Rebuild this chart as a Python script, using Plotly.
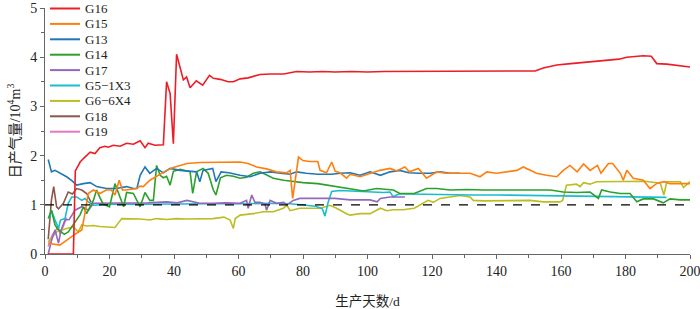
import plotly.graph_objects as go

# ---------------- data ----------------
series_names = ["G16", "G15", "G13", "G14", "G17", "G5−1X3", "G6−6X4", "G18", "G19"]
series_colors = ["#ee1c25", "#ff7f0e", "#1f77b4", "#2ca02c", "#9467bd",
                 "#17becf", "#bcbd22", "#8c564b", "#e377c2"]

g16_days = [1, 8.8, 9.4, 10.9, 11.9, 14, 15.5, 17, 18.6, 19.6, 21.2, 23.3, 25.3, 27.4, 29.5,
            31, 32, 34.1, 36.7, 37.7, 38.8, 39.8, 40.8, 42.9, 43.9, 45, 46.9, 48.9, 51, 52.2,
            54.3, 56.8, 58.4, 60.5, 63, 66.7, 70, 74, 78, 82, 86, 90, 95, 100, 105,
            110, 120, 130, 140, 150, 152, 154.5, 158.7, 163, 167, 171, 175, 178, 180.4, 183,
            185.5, 188, 189.7, 192.8, 196, 199, 200]
g16_vals = [0, 0, 1.69, 1.87, 1.94, 2.07, 2.04, 2.16, 2.19, 2.17, 2.21, 2.19, 2.25, 2.23, 2.30,
            2.16, 2.25, 2.21, 2.22, 3.50, 3.26, 2.24, 4.06, 3.54, 3.60, 3.38, 3.52, 3.43, 3.63, 3.57,
            3.55, 3.50, 3.50, 3.56, 3.58, 3.65, 3.66, 3.66, 3.71, 3.70, 3.71, 3.70, 3.71, 3.70, 3.71,
            3.71, 3.71, 3.71, 3.71, 3.71, 3.72, 3.78, 3.84, 3.87, 3.89, 3.91, 3.93, 3.96, 4.00, 4.02,
            4.03, 4.02, 3.87, 3.86, 3.84, 3.81, 3.80]

g15_days = [1, 4.6, 8.8, 11.4, 12.4, 13.4, 15, 17, 19, 20.6, 21.7, 23, 24, 25, 28.4,
            29.5, 30.5, 31.5, 32.5, 33.6, 35.5, 37.7, 39.8, 42, 44, 48, 53, 57, 60.5, 63,
            65.6, 68.7, 71.8, 74.9, 76, 76.8, 77.5, 78.6, 80, 82, 84.6, 85.3, 87.3, 88.9, 90,
            91.5, 93.5, 94.6, 97.7, 100.8, 103.9, 107, 109, 111.6, 113, 115.8, 118.3, 121.5, 124.5, 128.7,
            131.8, 134.9, 137, 140, 143, 146.3, 148.3, 152.4, 155.5, 158.7, 160.7, 162.8, 165, 167, 169,
            171.3, 172.4, 174.7, 176, 178.4, 179.3, 180.4, 182.4, 185.5, 187.6, 189.8, 192, 193.8, 197, 200]
g15_vals = [0.22, 0.18, 0.38, 0.49, 0.83, 1.23, 1.30, 1.23, 1.30, 1.30, 1.20, 1.50, 1.30, 1.30, 1.33,
            1.38, 1.37, 1.43, 1.50, 1.54, 1.62, 1.70, 1.76, 1.80, 1.84, 1.86, 1.86, 1.86, 1.87, 1.84,
            1.77, 1.73, 1.67, 1.65, 1.70, 1.13, 1.50, 1.97, 1.90, 1.88, 1.88, 1.70, 1.65, 1.87, 1.68,
            1.65, 1.54, 1.62, 1.57, 1.64, 1.70, 1.74, 1.69, 1.77, 1.67, 1.74, 1.54, 1.67, 1.64, 1.64,
            1.64, 1.57, 1.67, 1.64, 1.67, 1.70, 1.77, 1.64, 1.60, 1.57, 1.70, 1.80, 1.67, 1.83, 1.70,
            1.80, 1.64, 1.84, 1.84, 1.64, 1.50, 1.70, 1.54, 1.50, 1.33, 1.44, 1.47, 1.43, 1.43, 1.43]

g13_days = [1, 2, 3.1, 4.5, 6.7, 8.5, 9.8, 11.9, 14, 16, 19, 22.1, 25.3, 27.4, 28.5,
            29.5, 31, 32.5, 34.6, 36.7, 38.8, 41.9, 45, 47, 48, 49, 52, 53, 54.6, 57,
            60.5, 63.6, 66.7, 70, 73, 76, 78, 81, 84.6, 88.9, 91.5, 94.6, 97.7, 100.8, 104,
            107, 110, 112.8, 116, 119.5, 122.5, 125.6, 128.7]
g13_vals = [1.92, 1.67, 1.70, 1.65, 1.57, 1.48, 1.40, 1.43, 1.45, 1.37, 1.33, 1.33, 1.37, 1.33, 1.33,
            1.60, 1.77, 1.64, 1.74, 1.65, 1.74, 1.70, 1.68, 1.67, 1.47, 1.70, 1.74, 1.47, 1.67, 1.65,
            1.60, 1.57, 1.64, 1.67, 1.64, 1.62, 1.67, 1.64, 1.62, 1.62, 1.64, 1.65, 1.60, 1.67, 1.60,
            1.67, 1.70, 1.65, 1.64, 1.64, 1.67, 1.64, 1.64]

g14_days = [1, 2, 3.1, 4, 5, 6, 7.2, 8.2, 9.3, 10.9, 11.9, 12.9, 15, 16, 17,
            18, 20, 21.7, 23.3, 24.4, 25.3, 27.4, 29.5, 31, 32.5, 33.6, 34.6, 35.7, 36.7, 37.7,
            38.8, 39.8, 41.9, 43.4, 45, 45.8, 47, 49, 50.6, 52.2, 53, 54.4, 56.3, 58.4, 60.5,
            62.5, 64.6, 66.7, 68.7, 70.8, 74, 77, 80, 84.6, 87.6, 90.7, 94, 98.8, 102.8, 106,
            108, 110, 112.4, 114.5, 118.3, 121.5, 125.6, 130.8, 136, 141, 146.3, 151.5, 156.7, 160.7, 164.9,
            169, 171.6, 172.6, 175.3, 178.4, 181.4, 183.5, 185.5, 188.7, 191.7, 193.8, 197, 200]
g14_vals = [0.72, 0.89, 0.59, 0.50, 0.45, 0.40, 0.45, 0.55, 0.65, 0.80, 0.96, 0.82, 1.09, 1.30, 1.15,
            1.02, 0.96, 1.43, 1.15, 0.96, 1.25, 1.23, 0.96, 1.25, 1.09, 1.09, 1.80, 1.60, 1.55, 1.58,
            1.40, 1.68, 1.72, 1.70, 1.67, 1.23, 1.67, 1.74, 1.64, 1.30, 1.20, 1.55, 1.60, 1.58, 1.54,
            1.56, 1.64, 1.67, 1.60, 1.54, 1.50, 1.47, 1.45, 1.43, 1.40, 1.37, 1.33, 1.28, 1.33, 1.31,
            1.30, 1.23, 1.23, 1.23, 1.33, 1.33, 1.30, 1.31, 1.30, 1.30, 1.31, 1.30, 1.30, 1.26, 1.25,
            1.26, 1.13, 1.30, 1.26, 1.23, 1.23, 1.06, 1.12, 1.12, 1.04, 1.12, 1.10, 1.10]

g17_days = [1, 2, 3.1, 4.2, 5, 6.2, 7.5, 9.3, 11.4, 13.5, 15, 19, 23, 27.4, 32,
            37.7, 41, 44, 48, 52, 56, 60.5, 62.5, 63, 64.1, 65.1, 66.7, 68.2, 68.7, 69.8,
            71.8, 74, 75, 77, 79, 84, 89.9, 94.6, 100.8, 103, 104, 107, 110, 111.6]
g17_vals = [0.0, 0.27, 0.49, 0.22, 0.49, 0.69, 0.70, 0.89, 0.96, 0.89, 1.03, 1.03, 1.03, 1.04, 1.04,
            1.06, 1.04, 1.09, 1.03, 1.03, 1.04, 1.03, 1.09, 0.93, 1.20, 1.05, 1.05, 1.02, 0.89, 1.09,
            1.03, 1.05, 1.00, 1.09, 1.13, 1.13, 1.13, 1.10, 1.10, 1.06, 1.13, 1.16, 1.16, 1.16]

g5_days = [1.3, 2, 3.1, 4.2, 4.8, 6.2, 7.2, 8.3, 9.8, 11.4, 12.4, 13.4, 15, 20, 30,
           40, 50, 60, 70, 76, 80, 84, 86, 86.8, 87.8, 88.9, 91.5, 94.6, 100, 105,
           107, 108, 109, 110, 113, 120, 132, 140, 150.4, 160.7, 171, 181.4, 192.7]
g5_vals = [0.72, 0.89, 0.69, 0.52, 0.69, 0.72, 1.03, 1.16, 1.16, 1.09, 1.13, 1.06, 0.99, 1.01, 1.01,
           1.02, 1.02, 1.02, 1.03, 1.02, 1.00, 0.97, 0.92, 0.77, 1.05, 1.27, 1.29, 1.28, 1.27, 1.25,
           1.26, 1.16, 1.20, 1.22, 1.22, 1.21, 1.20, 1.20, 1.19, 1.18, 1.18, 1.16, 1.15]

g6_days = [1, 3.6, 6.7, 8.8, 10.3, 11.4, 12.9, 15, 17, 19, 21.7, 23.8, 26.4, 29.5, 32.6,
           34.6, 37.7, 40.8, 44, 48, 52, 55.5, 57.4, 58.4, 59, 60.5, 62.5, 64.6, 67.7, 70.8,
           73.9, 75, 76, 79, 82, 85.3, 88.4, 90.4, 93.5, 94.6, 97.7, 100.8, 104, 106, 108,
           111, 114.5, 116.3, 118.8, 120.4, 122.5, 125.6, 128.7, 131.8, 132.8, 136, 141, 146.3, 150.4, 154.5,
           159.7, 160.5, 161.7, 164.8, 165.9, 167, 169, 171, 177.6, 182.7, 186, 190.8, 191.9, 192.8, 197,
           198, 200]
g6_vals = [0.25, 0.45, 0.52, 0.55, 0.45, 0.59, 0.57, 0.58, 0.56, 0.55, 0.54, 0.72, 0.72, 0.71, 0.69,
           0.72, 0.70, 0.72, 0.71, 0.72, 0.72, 0.75, 0.69, 0.52, 0.72, 0.79, 0.80, 0.82, 0.86, 0.86,
           0.93, 0.99, 0.88, 0.93, 0.93, 0.93, 0.99, 0.93, 0.82, 0.79, 0.82, 0.82, 0.93, 0.88, 0.90,
           0.90, 0.93, 0.99, 1.09, 1.05, 1.13, 1.16, 1.19, 1.16, 1.09, 1.08, 1.08, 1.08, 1.09, 1.06,
           1.06, 1.09, 1.40, 1.42, 1.37, 1.45, 1.42, 1.47, 1.47, 1.47, 1.48, 1.44, 1.20, 1.47, 1.47,
           1.35, 1.47]

g18_days = [1, 2, 2.7, 3.6, 4.2, 5.7, 7.2, 8.5, 9.8, 11.4, 12.9, 14.3]
g18_vals = [0.30, 1.10, 1.37, 0.96, 0.92, 1.03, 1.26, 1.22, 1.33, 1.30, 1.23, 1.05]

g19_days = [1, 1.6, 2.6, 3.2, 4.1, 4.7, 5.7, 6.7]
g19_vals = [0.15, 0.30, 0.42, 0.48, 0.55, 0.40, 0.59, 0.74]

ref_days = [0, 200]
ref_vals = [1, 1]

x_ticks = [0, 20, 40, 60, 80, 100, 120, 140, 160, 180, 200]
y_ticks = [0, 1, 2, 3, 4, 5]

all_days = [g16_days, g15_days, g13_days, g14_days, g17_days, g5_days, g6_days, g18_days, g19_days]
all_vals = [g16_vals, g15_vals, g13_vals, g14_vals, g17_vals, g5_vals, g6_vals, g18_vals, g19_vals]

# ---------------- figure ----------------
SERIF = "Liberation Serif, Times New Roman, serif"
CJK = "Liberation Serif, Noto Sans CJK SC, serif"

fig = go.Figure()
# draw in reverse so G16 sits on top
for name, color, d, v in reversed(list(zip(series_names, series_colors, all_days, all_vals))):
    fig.add_trace(go.Scatter(x=d, y=v, mode="lines", name=name,
                             line=dict(color=color, width=1.6), showlegend=False))

fig.add_trace(go.Scatter(x=ref_days, y=ref_vals, mode="lines", showlegend=False,
                         line=dict(color="black", width=1.2, dash="dash")))

# compact legend drawn as layout decorations (plotly's own legend has a 19px minimum row height)
W, H = 700, 309
ML, MR, MT, MB = 45, 10, 8, 55
pw, ph = W - ML - MR, H - MT - MB
row_h = 15.4
shapes, annotations = [], []
for i, (name, color) in enumerate(zip(series_names, series_colors)):
    yp = 1 - (0.5 + row_h * i) / ph
    shapes.append(dict(type="line", xref="paper", yref="paper",
                       x0=5 / pw, x1=35 / pw, y0=yp, y1=yp,
                       line=dict(color=color, width=2)))
    annotations.append(dict(xref="paper", yref="paper", x=38 / pw, y=yp,
                            xanchor="left", yanchor="middle", showarrow=False,
                            text=name, font=dict(family=SERIF, size=13, color="#222")))

fig.update_layout(
    width=W, height=H,
    margin=dict(l=ML, r=MR, t=MT, b=MB),
    paper_bgcolor="white", plot_bgcolor="white",
    shapes=shapes, annotations=annotations,
    showlegend=False,
    xaxis=dict(range=[0, 200], tickvals=x_ticks, showgrid=False, zeroline=False,
               automargin=False, ticklabeloverflow="allow",
               showline=True, linecolor="#666", linewidth=1,
               ticks="outside", ticklen=4, tickcolor="#666",
               minor=dict(ticks="outside", dtick=10, ticklen=3, tickcolor="#666"),
               tickfont=dict(family=SERIF, size=14, color="#222"),
               title=dict(text="生产天数/d", standoff=19,
                          font=dict(family=CJK, size=13.5, color="#222"))),
    yaxis=dict(range=[0, 5], tickvals=y_ticks, showgrid=False, zeroline=False,
               automargin=False,
               showline=True, linecolor="#666", linewidth=1,
               ticks="outside", ticklen=4, tickcolor="#666",
               minor=dict(ticks="outside", dtick=0.5, ticklen=3, tickcolor="#666"),
               tickfont=dict(family=SERIF, size=14, color="#222"),
               title=dict(text="日产气量/10<sup>4</sup>m<sup>3</sup>", standoff=6,
                          font=dict(family=CJK, size=14, color="#222"))),
)

fig.write_html("out.html", config={"displayModeBar": False},
               post_script="document.body.style.margin='0';document.body.style.overflow='hidden';")
